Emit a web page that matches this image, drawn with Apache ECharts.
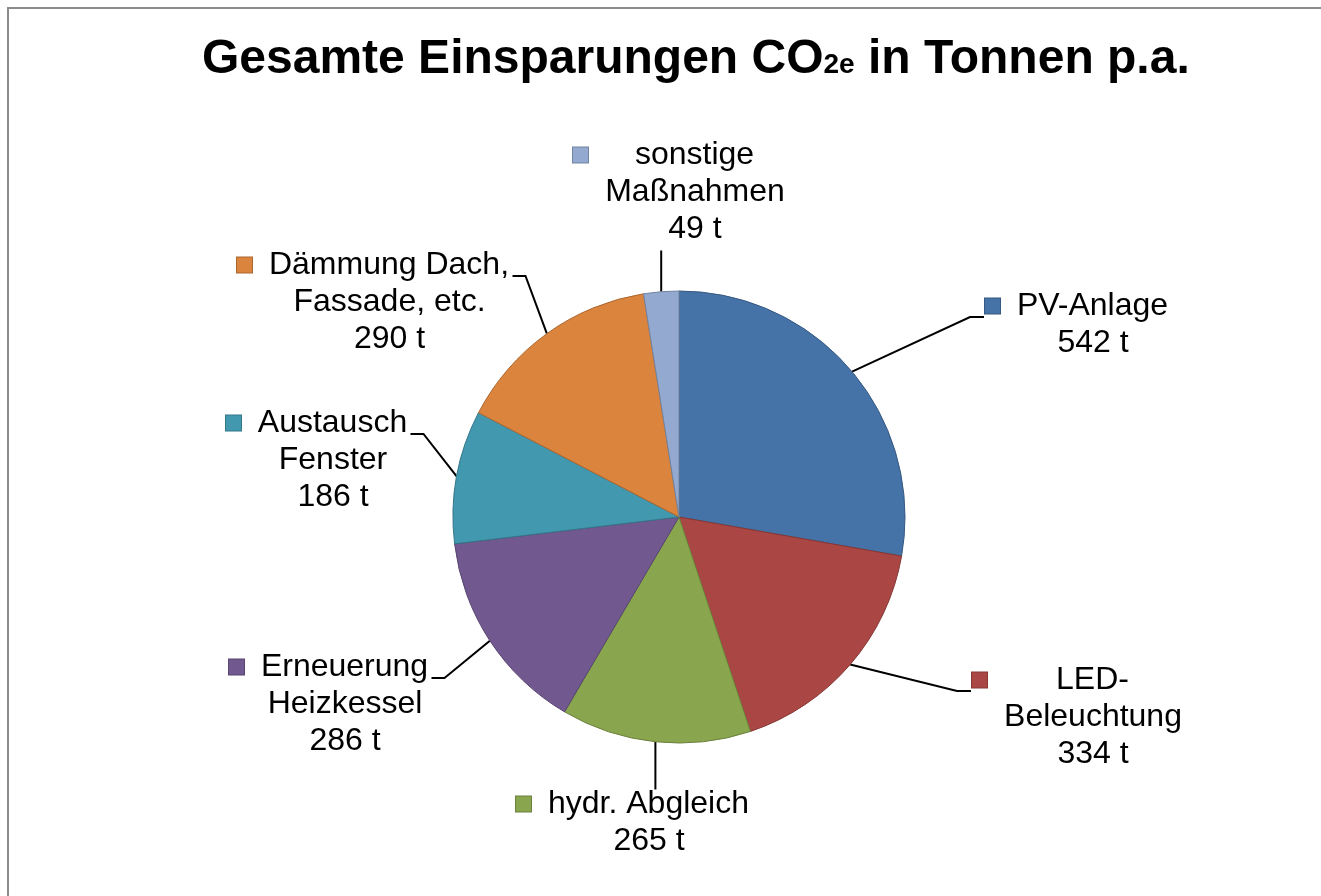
<!DOCTYPE html>
<html>
<head>
<meta charset="utf-8">
<script src="https://cdn.jsdelivr.net/npm/echarts@6/dist/echarts.min.js"></script>
<style>
  html, body { margin: 0; padding: 0; background: #fff; overflow: hidden; }
  #chart { position: absolute; left: 0; top: 0; width: 1321px; height: 896px; }
  #frame { position: absolute; left: 7px; top: 7px; width: 1400px; height: 1000px; border: 2px solid #8c8c8c; pointer-events: none; }
</style>
</head>
<body>
<div id="chart"></div>
<div id="frame"></div>
<script>
// Daten
const categories = ['PV-Anlage', 'LED-\nBeleuchtung', 'hydr. Abgleich', 'Erneuerung\nHeizkessel', 'Austausch\nFenster', 'Dämmung Dach,\nFassade, etc.', 'sonstige\nMaßnahmen'];
const values = [542, 334, 265, 286, 186, 290, 49];
const unit = 't';
const colors = ['#4572A7', '#AA4643', '#89A54E', '#71588F', '#4198AF', '#DB843D', '#93A9CF'];

// Lage der Legendenquadrate (Mitte) je Beschriftung
const keyPos = [[993, 306], [980, 680], [524, 804], [237, 667], [234, 423], [245, 265], [581, 155]];

const FONT = '"Liberation Sans", Arial, sans-serif';
const LABEL_SIZE = 32;
const LINE_H = 37;

const ctx = document.createElement('canvas').getContext('2d');
ctx.font = LABEL_SIZE + 'px ' + FONT;
function measure(s) { return ctx.measureText(s).width; }

function darker(hex) {
  const n = parseInt(hex.slice(1), 16);
  const f = c => Math.round(c * 0.78).toString(16).padStart(2, '0');
  return '#' + f(n >> 16) + f((n >> 8) & 255) + f(n & 255);
}

function labelFor(i) {
  const lines = categories[i].split('\n').concat(values[i] + ' ' + unit);
  const w = Math.ceil(Math.max.apply(null, lines.map(measure))) + 2;
  const fmt = lines.map((l, k) => (k === 0 ? '{sq|}{g|}' : '{p|}') + '{t|' + l + '}').join('\n');
  return {
    formatter: fmt,
    rich: {
      sq: { width: 15, height: 15, backgroundColor: colors[i], borderColor: darker(colors[i]), borderWidth: 1, lineHeight: LINE_H },
      g: { width: 15, lineHeight: LINE_H },
      p: { width: 31, lineHeight: LINE_H },
      t: { width: w, align: 'center', fontSize: LABEL_SIZE, lineHeight: LINE_H, color: '#000', fontFamily: FONT }
    }
  };
}

const data = categories.map((c, i) => ({
  name: c,
  value: values[i],
  itemStyle: { color: colors[i], borderColor: darker(colors[i]), borderWidth: 1 },
  label: labelFor(i)
}));

const myChart = echarts.init(document.getElementById('chart'));
const option = {
  animation: false,
  backgroundColor: '#fff',
  title: {
    text: '{a|Gesamte Einsparungen CO}{b|2e}{a| in Tonnen p.a.}',
    left: 202,
    top: 32,
    padding: 0,
    textStyle: {
      rich: {
        a: { fontSize: 48, fontWeight: 'bold', fontFamily: FONT, color: '#000', lineHeight: 56 },
        b: { fontSize: 28, fontWeight: 'bold', fontFamily: FONT, color: '#000', lineHeight: 56, verticalAlign: 'bottom', padding: [0, 0, 9, 0] }
      }
    }
  },
  series: [{
    type: 'pie',
    center: [679, 517],
    radius: 226,
    startAngle: 90,
    clockwise: true,
    avoidLabelOverlap: false,
    data: data,
    label: { show: true, position: 'outside' },
    labelLine: { show: true, length: 20, length2: 15, lineStyle: { color: '#000', width: 2 } },
    labelLayout: function (params) {
      const i = params.dataIndex;
      const r = params.labelRect;
      const x = keyPos[i][0] - 8;
      const y = keyPos[i][1] - LINE_H / 2;
      const a = params.labelLinePoints[0];
      let pts;
      if (a[0] > x && a[0] < x + r.width) {
        // Beschriftung über oder unter dem Kreis
        const ey = a[1] < y ? y + 4 : y + r.height + 8;
        pts = [a, [a[0], ey], [a[0], ey]];
      } else {
        const ly = keyPos[i][1] + 11;
        const ex = a[0] > x ? x + r.width + 1 : x - 1;
        const bx = a[0] > x ? ex + 13 : ex - 14;
        pts = [a, [bx, ly], [ex, ly]];
      }
      return { x: x, y: y, align: 'left', verticalAlign: 'top', labelLinePoints: pts };
    }
  }]
};
myChart.setOption(option);
</script>
</body>
</html>
